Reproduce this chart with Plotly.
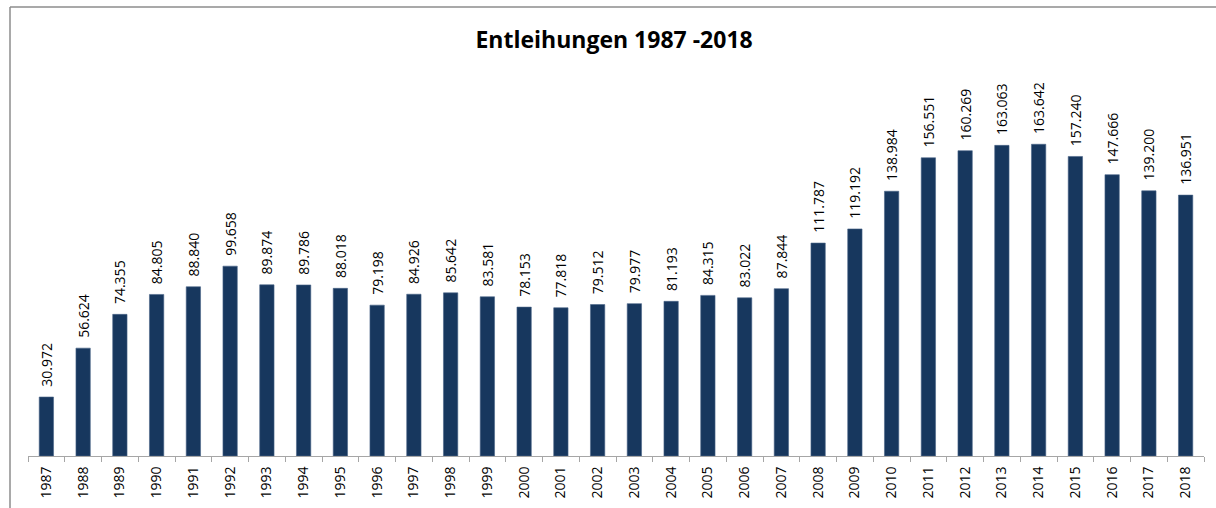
import plotly.graph_objects as go

years = [str(y) for y in range(1987, 2019)]
loans = [30972, 56624, 74355, 84805, 88840, 99658, 89874, 89786, 88018, 79198,
         84926, 85642, 83581, 78153, 77818, 79512, 79977, 81193, 84315, 83022,
         87844, 111787, 119192, 138984, 156551, 160269, 163063, 163642, 157240,
         147666, 139200, 136951]
title = "Entleihungen 1987 -2018"

W, H = 1216, 508
ml, mr, mt, mb = 28, 12, 75, 52

fig = go.Figure(go.Bar(
    x=years, y=loans,
    marker=dict(color="#17375E", line=dict(color="#4a6488", width=0.6)),
    texttemplate="\u00a0\u00a0%{y:,}", textposition="outside", textangle=-90,
    constraintext="none",
    textfont=dict(family="Open Sans", size=14, color="#000000"),
    cliponaxis=False,
))

fig.update_layout(
    width=W, height=H,
    margin=dict(l=ml, r=mr, t=mt, b=mb),
    paper_bgcolor="white", plot_bgcolor="white",
    separators=",.",
    bargap=0.61,
    showlegend=False,
    title=dict(text="<b>" + title + "</b>", x=0.505, xanchor="center", y=1 - 40 / H, yanchor="middle",
               font=dict(family="Open Sans", size=23, color="#000000")),
    xaxis=dict(type="category", showline=True, linecolor="#a6a6a6", linewidth=1,
               ticks="outside", tickson="boundaries", ticklen=5, tickcolor="#a6a6a6",
               tickangle=-90, ticklabelstandoff=4,
               tickfont=dict(family="Open Sans", size=14, color="#000000"),
               showgrid=False, automargin=False),
    yaxis=dict(range=[0, 200000], visible=False, showgrid=False, zeroline=False),
)

# outer chart frame (left and top edges visible)
fig.add_shape(type="line", xref="paper", yref="paper",
              x0=(10 - ml) / (W - ml - mr), x1=(10 - ml) / (W - ml - mr),
              y0=(H - 7 - mb) / (H - mt - mb), y1=-mb / (H - mt - mb) - 0.01,
              line=dict(color="#8c8c8c", width=1.5))
fig.add_shape(type="line", xref="paper", yref="paper",
              x0=(10 - ml) / (W - ml - mr), x1=(W + 5 - ml) / (W - ml - mr),
              y0=(H - 7 - mb) / (H - mt - mb), y1=(H - 7 - mb) / (H - mt - mb),
              line=dict(color="#8c8c8c", width=1.5))

fig.write_html("out.html", config={"displayModeBar": False},
               post_script="document.body.style.margin='0';document.body.style.overflow='hidden';")
